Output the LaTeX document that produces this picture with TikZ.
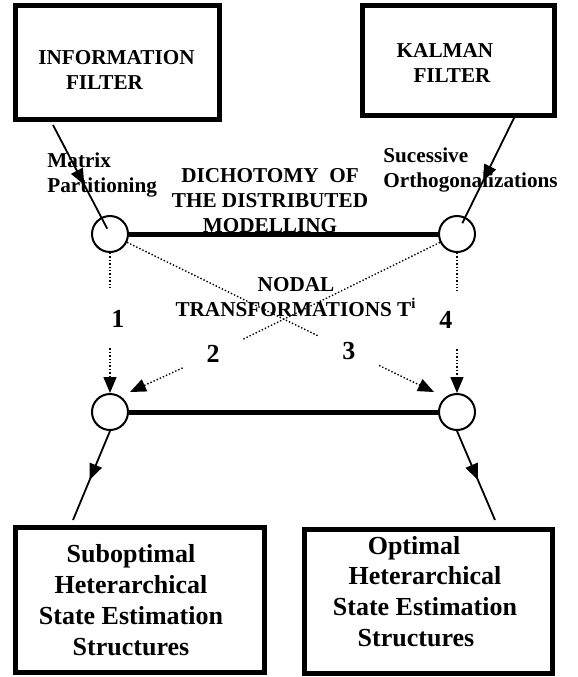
\documentclass[tikz,border=0pt]{standalone}
\usepackage{fontspec}
\setmainfont{Liberation Serif}
\usetikzlibrary{arrows.meta,decorations.markings}

\begin{document}
\begin{tikzpicture}[x=0.5pt,y=-0.5pt,
    font=\bfseries\fontsize{10.6}{12.5}\selectfont,
    filterbox/.style={draw,line width=2.5pt,inner sep=0pt},
    structbox/.style={draw,line width=2.5pt,inner sep=0pt,
        minimum width=124.5pt,minimum height=72.5pt},
    structtext/.style={align=center,inner sep=0pt,
        font=\bfseries\fontsize{13}{15.4}\selectfont},
    nodepoint/.style={draw,circle,line width=1pt,minimum size=18pt,inner sep=0pt},
    arrowtip/.style={-{Triangle[length=8pt,width=6.5pt]}},
    midarrow/.style={decoration={markings,
        mark=at position #1 with {\arrow{Triangle[length=8pt,width=6.5pt]}}},
        postaction={decorate}},
    flowline/.style={line width=0.9pt},
    dotline/.style={line width=0.7pt,dash pattern=on 0.7pt off 1pt},
    numlabel/.style={font=\bfseries\fontsize{13}{15}\selectfont,inner sep=0pt},
    textlabel/.style={inner sep=0pt}]
    \useasboundingbox (0,0) rectangle (578,677);

    \node[filterbox,minimum width=102pt,minimum height=57pt] (info) at (117.5,62.5) {};
    \node[filterbox,minimum width=96pt,minimum height=55pt] (kalman) at (458.5,60.5) {};
    \node[structbox] (subopt) at (140,600) {};
    \node[structbox,minimum width=124pt,minimum height=72pt] (opt) at (428.5,601.5) {};

    \node[textlabel,align=center] (infotext) at ([xshift=-0.5pt,yshift=-3.5pt]info.center) {INFORMATION\\FILTER\hspace*{12pt}};
    \node[textlabel,align=center] (kalmantext) at ([xshift=-3.25pt,yshift=-1pt]kalman.center) {KALMAN\hspace*{7pt}\\FILTER};
    \node[structtext] (subtext) at ([xshift=-4.5pt]subopt.center) {Suboptimal\\Heterarchical\\State Estimation\\Structures};
    \node[structtext] (opttext) at ([xshift=-1.75pt,yshift=5pt]opt.center) {Optimal\hspace*{11pt}\\Heterarchical\\State Estimation\\Structures\hspace*{9pt}};

    \node[nodepoint] (c1) at (110,234) {};
    \node[nodepoint] (c2) at (457,234) {};
    \node[nodepoint] (c3) at (110,412) {};
    \node[nodepoint] (c4) at (457,412) {};

    \node[textlabel,anchor=west,align=left] (matrix) at (47,175) {Matrix\\Partitioning};
    \node[textlabel,anchor=west,align=left] (orth) at (383,170) {Sucessive\\Orthogonalizations};
    \node[textlabel,align=center] (dich) at (270,201) {DICHOTOMY\ \ OF\\THE DISTRIBUTED\\MODELLING};
    \node[textlabel,align=center] (nodal) at (296,297) {NODAL\\TRANSFORMATIONS T\textsuperscript{i}};

    \node[numlabel,minimum height=29pt] (n1) at (118,319) {1};
    \node[numlabel,circle,minimum size=33pt] (n2) at (213,354) {2};
    \node[numlabel,circle,minimum size=33pt] (n3) at (349,351) {3};
    \node[numlabel,minimum height=29pt] (n4) at (446,320) {4};

    \coordinate (a1) at (53,125);
    \coordinate (a2) at (515,116);
    \coordinate (s1) at (73,520);
    \coordinate (s2) at (495,520);
    \coordinate (t2) at (130,392);
    \coordinate (t3) at (434,392);

    \draw[line width=2.5pt] (c1) -- (c2);
    \draw[line width=2.5pt] (c3) -- (c4);

    \draw[flowline,midarrow=0.55,shorten >=3pt] (a1) -- (c1.center);
    \draw[flowline,midarrow=0.55,shorten >=6pt] (a2) -- (c2.center);
    \draw[flowline,midarrow=0.55] (c3.south) -- (s1);
    \draw[flowline,midarrow=0.55] (c4.south) -- (s2);

    \draw[dotline] (c1) -- (c1 |- n1.north);
    \draw[dotline,arrowtip] (c1 |- n1.south) -- (c3);
    \draw[dotline] (c2) -- (c2 |- n4.north);
    \draw[dotline,arrowtip] (c2 |- n4.south) -- (c4);
    \draw[dotline] (c1) -- (n3);
    \draw[dotline,arrowtip] (n3) -- (t3);
    \draw[dotline] (c2) -- (n2);
    \draw[dotline,arrowtip] (n2) -- (t2);
\end{tikzpicture}
\end{document}
